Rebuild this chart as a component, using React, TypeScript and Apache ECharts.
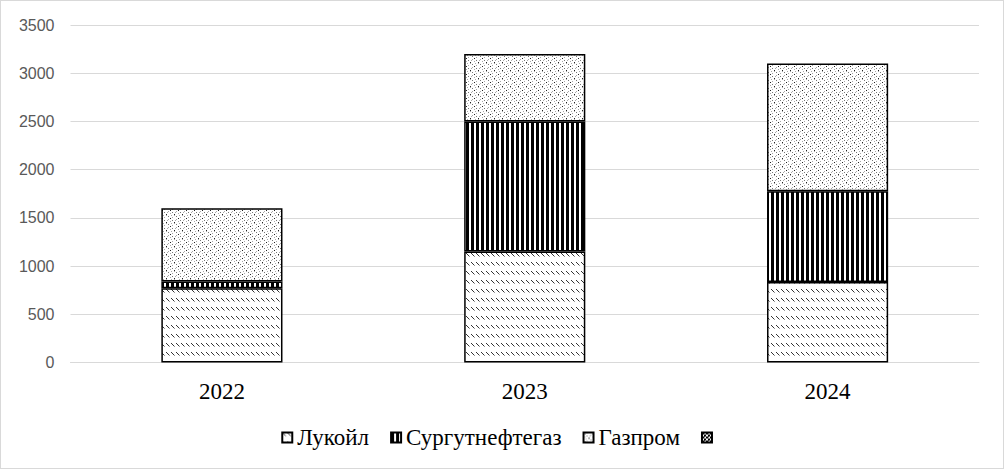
import React, { useEffect, useRef } from "react";
import * as echarts from "echarts";

const categories = ["2022", "2023", "2024"];
const lukoil = [770, 1150, 835];
const surgut = [70, 1350, 940];
const gazprom = [760, 700, 1325];
const extra: (number | null)[] = [null, null, null];
const seriesNames = ["Лукойл", "Сургутнефтегаз", "Газпром", " "];

function makeTile(w: number, h: number, draw: (ctx: CanvasRenderingContext2D) => void) {
  const c = document.createElement("canvas");
  c.width = w;
  c.height = h;
  const ctx = c.getContext("2d")!;
  ctx.fillStyle = "#ffffff";
  ctx.fillRect(0, 0, w, h);
  draw(ctx);
  return { image: c, repeat: "repeat", imageWidth: w, imageHeight: h } as any;
}

function patterns() {
  const diag = makeTile(5, 9, (ctx) => {
    ctx.fillStyle = "#333";
    ctx.fillRect(0, 0, 1, 1);
    ctx.fillRect(1, 1, 1, 1);
    ctx.fillRect(2, 2, 1, 1);
    ctx.fillStyle = "#999";
    ctx.fillRect(3, 3, 1, 1);
  });
  const stripes = makeTile(5, 4, (ctx) => {
    ctx.fillStyle = "#000";
    ctx.fillRect(0, 0, 3, 4);
  });
  const dots = makeTile(8, 8, (ctx) => {
    ctx.fillStyle = "#222";
    ctx.fillRect(1, 1, 1, 1);
    ctx.fillRect(5, 5, 1, 1);
    ctx.fillStyle = "#777";
    ctx.fillRect(3, 3, 1, 1);
    ctx.fillRect(7, 7, 1, 1);
    ctx.fillStyle = "#aaa";
    ctx.fillRect(3, 0, 1, 1);
    ctx.fillRect(7, 2, 1, 1);
    ctx.fillRect(1, 4, 1, 1);
    ctx.fillRect(5, 6, 1, 1);
    ctx.fillRect(6, 3, 1, 1);
    ctx.fillRect(2, 6, 1, 1);
  });
  const dark = makeTile(4, 4, (ctx) => {
    ctx.fillStyle = "#000";
    ctx.fillRect(0, 0, 2, 2);
    ctx.fillRect(2, 2, 2, 2);
    ctx.fillStyle = "#555";
    ctx.fillRect(2, 0, 1, 1);
  });
  return [diag, stripes, dots, dark];
}

export default function App() {
  const ref = useRef<HTMLDivElement>(null);
  useEffect(() => {
    if (!ref.current) return;
    const chart = echarts.init(ref.current, undefined, { renderer: "svg" });
    const fills = patterns();
    const datasets = [lukoil, surgut, gazprom, extra];
    chart.setOption({
      animation: false,
      backgroundColor: "#ffffff",
      grid: { left: 69.5, right: 24, top: 24, bottom: 105.5, containLabel: false },
      legend: {
        data: seriesNames,
        top: 420,
        left: "center",
        icon: "rect",
        itemWidth: 10,
        itemHeight: 10,
        itemGap: 21,
        textStyle: { fontFamily: "Liberation Serif", fontSize: 23, color: "#000" },
      },
      xAxis: {
        type: "category",
        data: categories,
        axisLine: { lineStyle: { color: "#d9d9d9", width: 1 } },
        axisTick: { show: false },
        axisLabel: { fontFamily: "Liberation Serif", fontSize: 23, color: "#000", margin: 17 },
      },
      yAxis: {
        type: "value",
        min: 0,
        max: 3500,
        interval: 500,
        axisLine: { show: false },
        axisTick: { show: false },
        axisLabel: {
          fontFamily: "Liberation Sans",
          fontSize: 16,
          color: "#595959",
          margin: 16,
          formatter: (v: number) => String(v),
        },
        splitLine: { lineStyle: { color: "#d9d9d9", width: 1 } },
      },
      series: seriesNames.map((name, i) => ({
        name,
        type: "bar",
        stack: "total",
        data: datasets[i],
        barCategoryGap: "60%",
        itemStyle: { color: fills[i], borderColor: "#000", borderWidth: 1.5 },
      })),
    });
    return () => chart.dispose();
  }, []);
  return (
    <div
      style={{
        position: "fixed",
        left: 0,
        top: 0,
        width: 1004,
        height: 469,
        boxSizing: "border-box",
        border: "1px solid #d9d9d9",
        background: "#fff",
      }}
    >
      <div ref={ref} style={{ width: 1002, height: 467 }} />
    </div>
  );
}
